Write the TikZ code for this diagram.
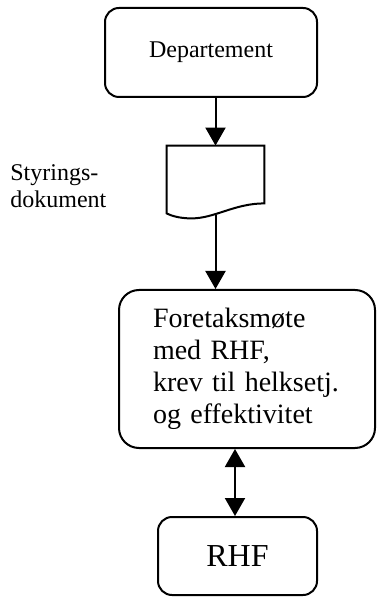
\documentclass[tikz,border=0pt]{standalone}
\usepackage{fontspec}
\setmainfont{Liberation Serif}
\usepackage{tikz}
\usetikzlibrary{arrows.meta,calc}

\begin{document}
\begin{tikzpicture}[
    x=0.5pt, y=-0.5pt,
    box/.style ={draw, line width=1pt, rounded corners=7pt, inner sep=0pt},
    flow/.style={line width=1pt, -{Triangle[width=10pt,length=9pt]}},
    both/.style={line width=1pt, {Triangle[width=10pt,length=9pt]}-{Triangle[width=10pt,length=9pt]}},
    lbl/.style ={font=\fontsize{12}{13.8}\selectfont}
]
\useasboundingbox (0,0) rectangle (376,597);

% Top box
\node[box, lbl, minimum width=106pt, minimum height=44.5pt] (dep) at (211,52.5) {Departement};

% Document symbol with wavy bottom edge
\node[minimum width=48.5pt, minimum height=36pt, inner sep=0pt] (doc) at (215.5,182) {};
\draw[line width=1pt, line join=miter]
     (doc.north west) -- (doc.north east)
     -- ([yshift=7.5pt]doc.south east)
     .. controls ([shift={(34pt,7.5pt)}]doc.south west) and ([shift={(24pt,0pt)}]doc.south west)
     .. ([xshift=12.5pt]doc.south west)
     .. controls ([xshift=6pt]doc.south west) and ([shift={(2pt,1.5pt)}]doc.south west)
     .. ([yshift=2.5pt]doc.south west) -- cycle;
\node[lbl, align=left, anchor=west, inner sep=0pt] (doclbl) at (10,186) {Styrings-\\dokument};

% Meeting box
\node[box, rounded corners=10pt, minimum width=128pt, minimum height=79pt,
      font=\fontsize{14}{16.1}\selectfont, align=left, text width=94pt,
      inner xsep=17pt] (fore) at (247,369)
     {Foretaksm\o te\\med RHF,\\krev til helksetj.\\og effektivitet};

% Bottom box
\node[box, minimum width=79.5pt, minimum height=39pt,
      font=\fontsize{16}{18.4}\selectfont] (rhf) at (237.5,556) {RHF};

% Connectors
\draw[flow] (dep.south -| doc.north) -- (doc.north);
\draw[flow] ([yshift=1.5pt]doc.south) -- (fore.north -| doc.south);
\draw[both] ([xshift=-1.25pt]fore.south -| rhf.north) -- ([xshift=-1.25pt]rhf.north);
\end{tikzpicture}
\end{document}
